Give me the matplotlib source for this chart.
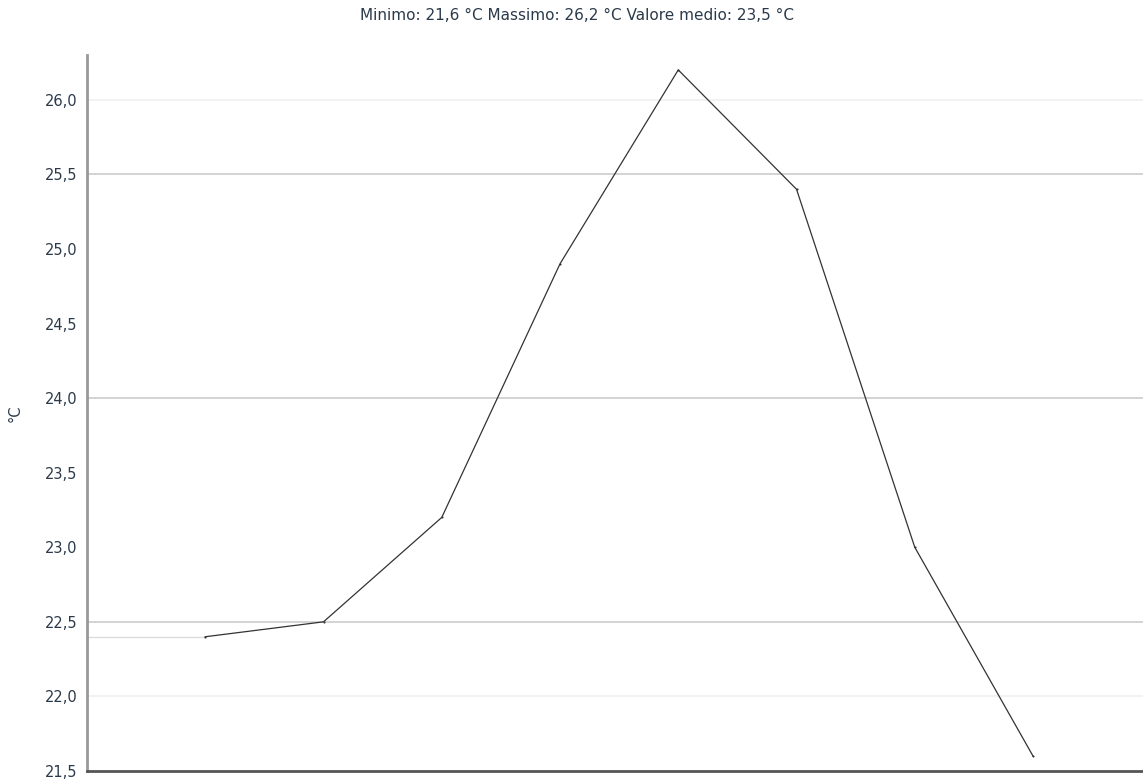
import matplotlib
matplotlib.use("Agg")
import matplotlib.pyplot as plt

# Hourly temperature readings (°C)
positions = [0, 1, 2, 3, 4, 5, 6, 7]
temperatures = [22.4, 22.5, 23.2, 24.9, 26.2, 25.4, 23.0, 21.6]
y_ticks = [21.5, 22.0, 22.5, 23.0, 23.5, 24.0, 24.5, 25.0, 25.5, 26.0]
y_tick_labels = ["21,5", "22,0", "22,5", "23,0", "23,5", "24,0", "24,5", "25,0", "25,5", "26,0"]
major_grid = [22.5, 24.0, 25.5]
minor_grid = [22.0, 26.0]
title = "Minimo: 21,6 °C Massimo: 26,2 °C Valore medio: 23,5 °C"

plt.rcParams['font.family'] = ['DejaVu Sans']

fig = plt.figure(figsize=(11.43, 7.79), dpi=100)
ax = fig.add_axes([87 / 1143, 1 - 771 / 779, 1 - 87 / 1143, (771 - 55) / 779])

ax.set_xlim(-1, 7.93)
ax.set_ylim(21.5, 26.3)

for g in major_grid:
    ax.axhline(g, color="#cccccc", lw=1.2, zorder=1)
for g in minor_grid:
    ax.axhline(g, color="#f0f0f0", lw=1.2, zorder=1)

# reference line from the axis to the first reading
ax.plot([-1, positions[0]], [temperatures[0], temperatures[0]], color="#dddddd", lw=1.0, zorder=1)

ax.plot(positions, temperatures, color="#333333", lw=0.9, marker="o", ms=1.5,
        markerfacecolor="#333333", markeredgewidth=0, zorder=3)

ax.set_yticks(y_ticks)
ax.set_yticklabels(y_tick_labels, fontsize=10.5, color="#2b3a4a")
ax.set_xticks([])
ax.tick_params(axis="y", length=0, pad=7)

for side in ("top", "right"):
    ax.spines[side].set_visible(False)
ax.spines["left"].set_color("#999999")
ax.spines["left"].set_linewidth(2)
ax.spines["bottom"].set_color("#555555")
ax.spines["bottom"].set_linewidth(2)

fig.text(15 / 1143, 1 - 413 / 779, "°C", rotation=90, ha="center", va="center",
         fontsize=10.5, color="#2b3a4a")
fig.text(577 / 1143, 1 - 16 / 779, title, ha="center", va="center",
         fontsize=11, color="#2b3a4a")

fig.savefig("out.png", dpi=100, facecolor="white")
